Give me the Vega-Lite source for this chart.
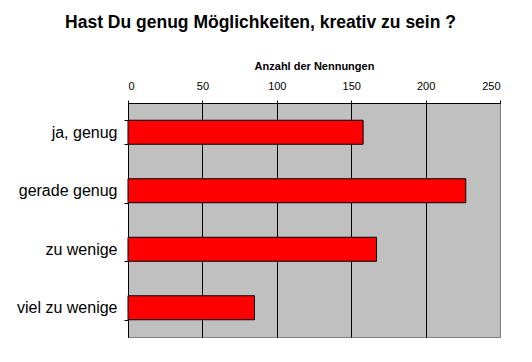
{
  "$schema": "https://vega.github.io/schema/vega-lite/v6.json",
  "autosize": {"type": "none"},
  "padding": {"left": 128, "top": 103, "right": 32, "bottom": 25},
  "width": 372,
  "height": 234,
  "background": "white",
  "title": {
    "text": "Hast Du genug Möglichkeiten, kreativ zu sein ?",
    "font": "Liberation Sans",
    "fontSize": 17.5,
    "fontWeight": "bold",
    "color": "black",
    "anchor": "middle",
    "frame": "bounds",
    "offset": 29,
    "dx": 2
  },
  "data": {
    "values": [
      {"antwort": "ja, genug", "anzahl": 158},
      {"antwort": "gerade genug", "anzahl": 227},
      {"antwort": "zu wenige", "anzahl": 167},
      {"antwort": "viel zu wenige", "anzahl": 85}
    ]
  },
  "mark": {"type": "bar", "color": "#ff0000", "stroke": "black", "strokeWidth": 1},
  "encoding": {
    "y": {
      "field": "antwort",
      "type": "nominal",
      "sort": null,
      "scale": {"paddingInner": 0.59, "paddingOuter": 0.295},
      "axis": {
        "title": null,
        "orient": "left",
        "tickBand": "extent",
        "domainColor": "black",
        "tickColor": "black",
        "tickSize": 4,
        "labelFont": "Liberation Sans",
        "labelFontSize": 16,
        "labelColor": "black",
        "labelPadding": 7,
        "grid": false
      }
    },
    "x": {
      "field": "anzahl",
      "type": "quantitative",
      "scale": {"domain": [0, 250], "nice": false},
      "axis": {
        "orient": "top",
        "title": "Anzahl der Nennungen",
        "titleFont": "Liberation Sans",
        "titleFontSize": 11,
        "titleFontWeight": "bold",
        "titleColor": "black",
        "titlePadding": 9,
        "values": [0, 50, 100, 150, 200, 250],
        "labelFont": "Liberation Sans",
        "labelFontSize": 11,
        "labelColor": "black",
        "labelPadding": 9,
        "tickSize": 3,
        "tickColor": "black",
        "domainColor": "black",
        "grid": true,
        "gridColor": {"condition": {"test": "datum.value == 250", "value": "#808080"}, "value": "black"},
        "gridOpacity": 1,
        "gridWidth": 1
      }
    }
  },
  "config": {
    "view": {"fill": "#c0c0c0", "stroke": "#808080", "strokeWidth": 1}
  }
}
